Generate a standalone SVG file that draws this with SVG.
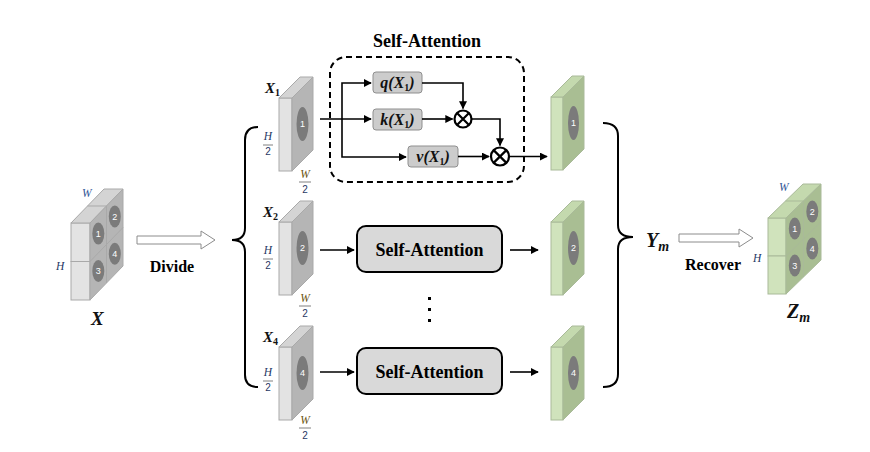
<svg xmlns="http://www.w3.org/2000/svg" width="870" height="452" viewBox="0 0 870 452">
<style>
text{font-family:"Liberation Serif","Times New Roman","DejaVu Serif",serif;}
.b{font-weight:bold;}
.num{font-family:"Liberation Sans",Arial,sans-serif;font-size:9px;fill:#ffffff;text-anchor:middle;}
.sub2{font-family:"Liberation Sans",Arial,sans-serif;font-size:10px;fill:#1f3864;text-anchor:middle;}
.gs{stroke:#a9a9a9;stroke-width:1;}
.gf{fill:#e3e3e3;}
.gt{fill:#d4d4d4;}
.gd{fill:#b5b5b5;}
.ns{stroke:#a9ba99;stroke-width:1;}
.nf{fill:#d0e3bc;}
.nt{fill:#c4d9ae;}
.nd{fill:#a9be93;}
.ell{fill:#7b7b7b;}
.ln{stroke:#000;stroke-width:1.6;fill:none;}
.brace{stroke:#000;stroke-width:2;fill:none;}
.hollow{fill:#fff;stroke:#8c8c8c;stroke-width:1;}
.ibox{fill:#cccccc;stroke:#8f8f8f;stroke-width:1;}
.sabox{fill:#d9d9d9;stroke:#000;stroke-width:2;}
.lbl{font-weight:bold;font-style:italic;fill:#111;}
.hl{font-style:italic;font-size:11.5px;}
.fr{stroke:#808080;stroke-width:1;}
</style>
<defs>
<marker id="ah" viewBox="0 0 10 10" refX="9" refY="5" markerWidth="5" markerHeight="5" orient="auto" markerUnits="strokeWidth">
<path d="M0,0 L10,5 L0,10 z" fill="#000"/>
</marker>
<g id="slabG">
<rect class="gf gs" x="0" y="0" width="13" height="73"/>
<polygon class="gt gs" points="0,0 13,0 34,-21 21,-21"/>
<polygon class="gd gs" points="13,0 34,-21 34,52 13,73"/>
<ellipse class="ell" cx="23.5" cy="26" rx="6" ry="17"/>
</g>
<g id="slabN">
<rect class="nf ns" x="0" y="0" width="12" height="73"/>
<polygon class="nt ns" points="0,0 12,0 33,-21 21,-21"/>
<polygon class="nd ns" points="12,0 33,-21 33,52 12,73"/>
<ellipse class="ell" cx="22.5" cy="26" rx="5.5" ry="17"/>
</g>
</defs>
<rect width="870" height="452" fill="#fff"/>

<g id="nodeX">
<g transform="translate(71,223)">
<rect class="gf gs" x="0" y="0" width="19" height="38.5"/>
<rect class="gf gs" x="0" y="38.5" width="19" height="38.5"/>
<polygon class="gt gs" points="0,0 19,0 52,-34 33,-34"/>
<line class="gs" x1="16.5" y1="-17" x2="35.5" y2="-17"/>
<polygon class="gd gs" points="19,0 52,-34 52,43 19,77"/>
<line class="gs" x1="35.5" y1="-17" x2="35.5" y2="60"/>
<line class="gs" x1="19" y1="38.5" x2="52" y2="4.5"/>
<ellipse class="ell" cx="27.3" cy="10.6" rx="6" ry="11"/>
<ellipse class="ell" cx="43.8" cy="-6.6" rx="6" ry="11"/>
<ellipse class="ell" cx="27.3" cy="48" rx="6" ry="11"/>
<ellipse class="ell" cx="43.8" cy="30.8" rx="6" ry="11"/>
<text class="num" x="27.3" y="13.8">1</text>
<text class="num" x="43.8" y="-3.4">2</text>
<text class="num" x="27.3" y="51.2">3</text>
<text class="num" x="43.8" y="34">4</text>
</g>
<text class="hl" x="82" y="197" fill="#2f5597">W</text>
<text class="hl" x="56" y="270" fill="#1f3864">H</text>
<text class="lbl" x="91" y="325" font-size="19">X</text>
</g>

<g id="divideArrow">
<polygon class="hollow" points="137,236 201,236 201,231 215,240 201,249 201,244 137,244"/>
<text class="b" x="172" y="272" font-size="16" text-anchor="middle" style="font-family:'Liberation Serif','Times New Roman',serif;font-weight:bold">Divide</text>
</g>

<g id="braceLeft">
<path class="brace" d="M258,127 Q245,127 245,140 L245,228 Q245,240 232,240 Q245,240 245,252 L245,375 Q245,387 258,387"/>
</g>

<g id="slabX1">
<use href="#slabG" x="279" y="98"/>
<text class="num" x="302.5" y="127">1</text>
<text class="lbl" x="265" y="93" font-size="15">X<tspan font-size="10" font-style="normal" dy="3">1</tspan></text>
<text class="hl" x="268" y="140" fill="#1f3864" text-anchor="middle">H</text>
<line class="fr" x1="263" y1="145" x2="273" y2="145"/>
<text class="sub2" x="268" y="155">2</text>
<text class="hl" x="305" y="178" fill="#6b5410" text-anchor="middle">W</text>
<line class="fr" x1="299" y1="182" x2="311" y2="182"/>
<text class="sub2" x="305" y="193">2</text>
</g>

<g id="slabX2">
<use href="#slabG" x="279" y="222"/>
<text class="num" x="302.5" y="251">2</text>
<text class="lbl" x="263" y="217" font-size="15">X<tspan font-size="10" font-style="normal" dy="3">2</tspan></text>
<text class="hl" x="268" y="254" fill="#1f3864" text-anchor="middle">H</text>
<line class="fr" x1="263" y1="259" x2="273" y2="259"/>
<text class="sub2" x="268" y="269">2</text>
<text class="hl" x="305" y="302" fill="#6b5410" text-anchor="middle">W</text>
<line class="fr" x1="299" y1="306" x2="311" y2="306"/>
<text class="sub2" x="305" y="317">2</text>
</g>

<g id="slabX4">
<use href="#slabG" x="279" y="347"/>
<text class="num" x="302.5" y="376">4</text>
<text class="lbl" x="263" y="342" font-size="15">X<tspan font-size="10" font-style="normal" dy="3">4</tspan></text>
<text class="hl" x="268" y="376" fill="#1f3864" text-anchor="middle">H</text>
<line class="fr" x1="263" y1="381" x2="273" y2="381"/>
<text class="sub2" x="268" y="391">2</text>
<text class="hl" x="305" y="424" fill="#6b5410" text-anchor="middle">W</text>
<line class="fr" x1="299" y1="428" x2="311" y2="428"/>
<text class="sub2" x="305" y="439">2</text>
</g>

<g id="selfAttentionDetail">
<text x="427" y="47" font-size="18" text-anchor="middle" style="font-family:'Liberation Serif','Times New Roman',serif;font-weight:bold">Self-Attention</text>
<rect x="330" y="57" width="194" height="125" rx="16" fill="none" stroke="#000" stroke-width="2" stroke-dasharray="6,4"/>
</g>
<g id="qBox">
<rect class="ibox" x="373" y="72" width="49" height="21" rx="3"/>
<text class="lbl" x="397.5" y="88" font-size="16" text-anchor="middle">q(X<tspan font-size="10" font-style="normal" dy="3">1</tspan><tspan dy="-3">)</tspan></text>
</g>
<g id="kBox">
<rect class="ibox" x="373" y="109" width="49" height="21" rx="3"/>
<text class="lbl" x="397.5" y="125" font-size="16" text-anchor="middle">k(X<tspan font-size="10" font-style="normal" dy="3">1</tspan><tspan dy="-3">)</tspan></text>
</g>
<g id="vBox">
<rect class="ibox" x="408" y="146" width="50" height="21" rx="3"/>
<text class="lbl" x="433" y="162" font-size="16" text-anchor="middle">v(X<tspan font-size="10" font-style="normal" dy="3">1</tspan><tspan dy="-3">)</tspan></text>
</g>
<g id="mul1">
<circle cx="463" cy="119" r="8.5" fill="#fff" stroke="#000" stroke-width="2.2"/>
<path d="M457,113 L469,125 M469,113 L457,125" stroke="#000" stroke-width="2.2"/>
</g>
<g id="mul2">
<circle cx="500" cy="156.5" r="9" fill="#fff" stroke="#000" stroke-width="2.2"/>
<path d="M493.6,150.1 L506.4,162.9 M506.4,150.1 L493.6,162.9" stroke="#000" stroke-width="2.2"/>
</g>

<g id="sa2">
<rect class="sabox" x="357" y="226" width="145" height="46" rx="9"/>
<text x="429.5" y="256" font-size="18" text-anchor="middle" style="font-family:'Liberation Serif','Times New Roman',serif;font-weight:bold">Self-Attention</text>
</g>
<g id="sa4">
<rect class="sabox" x="357" y="348" width="145" height="46" rx="9"/>
<text x="429.5" y="378" font-size="18" text-anchor="middle" style="font-family:'Liberation Serif','Times New Roman',serif;font-weight:bold">Self-Attention</text>
</g>
<g id="dots">
<rect x="428" y="297" width="3" height="3" fill="#000"/>
<rect x="428" y="308" width="3" height="3" fill="#000"/>
<rect x="428" y="319" width="3" height="3" fill="#000"/>
</g>

<g id="slabY1">
<use href="#slabN" x="551" y="97"/>
<text class="num" x="573.5" y="126">1</text>
</g>
<g id="slabY2">
<use href="#slabN" x="551" y="222"/>
<text class="num" x="573.5" y="251">2</text>
</g>
<g id="slabY4">
<use href="#slabN" x="551" y="347"/>
<text class="num" x="573.5" y="376">4</text>
</g>

<g id="braceRight">
<path class="brace" d="M603,123 Q618,123 618,136 L618,225 Q618,237 633,237 Q618,237 618,249 L618,374 Q618,387 603,387"/>
<text class="lbl" x="646" y="247" font-size="20">Y<tspan font-size="14" dy="4">m</tspan></text>
</g>

<g id="recoverArrow">
<polygon class="hollow" points="679,234 739,234 739,229 753,238 739,247 739,242 679,242"/>
<text x="713" y="270" font-size="16" text-anchor="middle" style="font-family:'Liberation Serif','Times New Roman',serif;font-weight:bold">Recover</text>
</g>

<g id="nodeZ">
<g transform="translate(768,218)">
<rect class="nf ns" x="0" y="0" width="18" height="38"/>
<rect class="nf ns" x="0" y="38" width="18" height="38"/>
<polygon class="nt ns" points="0,0 18,0 53,-34 35,-34"/>
<line class="ns" x1="17.5" y1="-17" x2="35.5" y2="-17"/>
<polygon class="nd ns" points="18,0 53,-34 53,42 18,76"/>
<line class="ns" x1="35.5" y1="-17" x2="35.5" y2="59"/>
<line class="ns" x1="18" y1="38" x2="53" y2="4"/>
<ellipse class="ell" cx="26.8" cy="10.5" rx="6" ry="11"/>
<ellipse class="ell" cx="44.3" cy="-6.5" rx="6" ry="11"/>
<ellipse class="ell" cx="26.8" cy="47.5" rx="6" ry="11"/>
<ellipse class="ell" cx="44.3" cy="30.5" rx="6" ry="11"/>
<text class="num" x="26.8" y="13.7">1</text>
<text class="num" x="44.3" y="-3.3">2</text>
<text class="num" x="26.8" y="50.7">3</text>
<text class="num" x="44.3" y="33.7">4</text>
</g>
<text class="hl" x="779" y="191" fill="#2f5597">W</text>
<text class="hl" x="753" y="262" fill="#1f3864">H</text>
<text class="lbl" x="787" y="318" font-size="20">Z<tspan font-size="14" dy="4">m</tspan></text>
</g>

<g id="connectors">
<path class="ln" d="M320,119 H371" marker-end="url(#ah)"/>
<path class="ln" d="M342,119 V83 H371" marker-end="url(#ah)"/>
<path class="ln" d="M342,119 V157 H406" marker-end="url(#ah)"/>
<path class="ln" d="M422,83 H463 V108.5" marker-end="url(#ah)"/>
<path class="ln" d="M422,119 H452.5" marker-end="url(#ah)"/>
<path class="ln" d="M471.5,119 H500 V145.5" marker-end="url(#ah)"/>
<path class="ln" d="M458,156.5 H489" marker-end="url(#ah)"/>
<path class="ln" d="M509,156.5 H547" marker-end="url(#ah)"/>
<path class="ln" d="M320,250 H354" marker-end="url(#ah)"/>
<path class="ln" d="M510,250 H538" marker-end="url(#ah)"/>
<path class="ln" d="M320,372 H354" marker-end="url(#ah)"/>
<path class="ln" d="M510,372 H538" marker-end="url(#ah)"/>
</g>
</svg>
